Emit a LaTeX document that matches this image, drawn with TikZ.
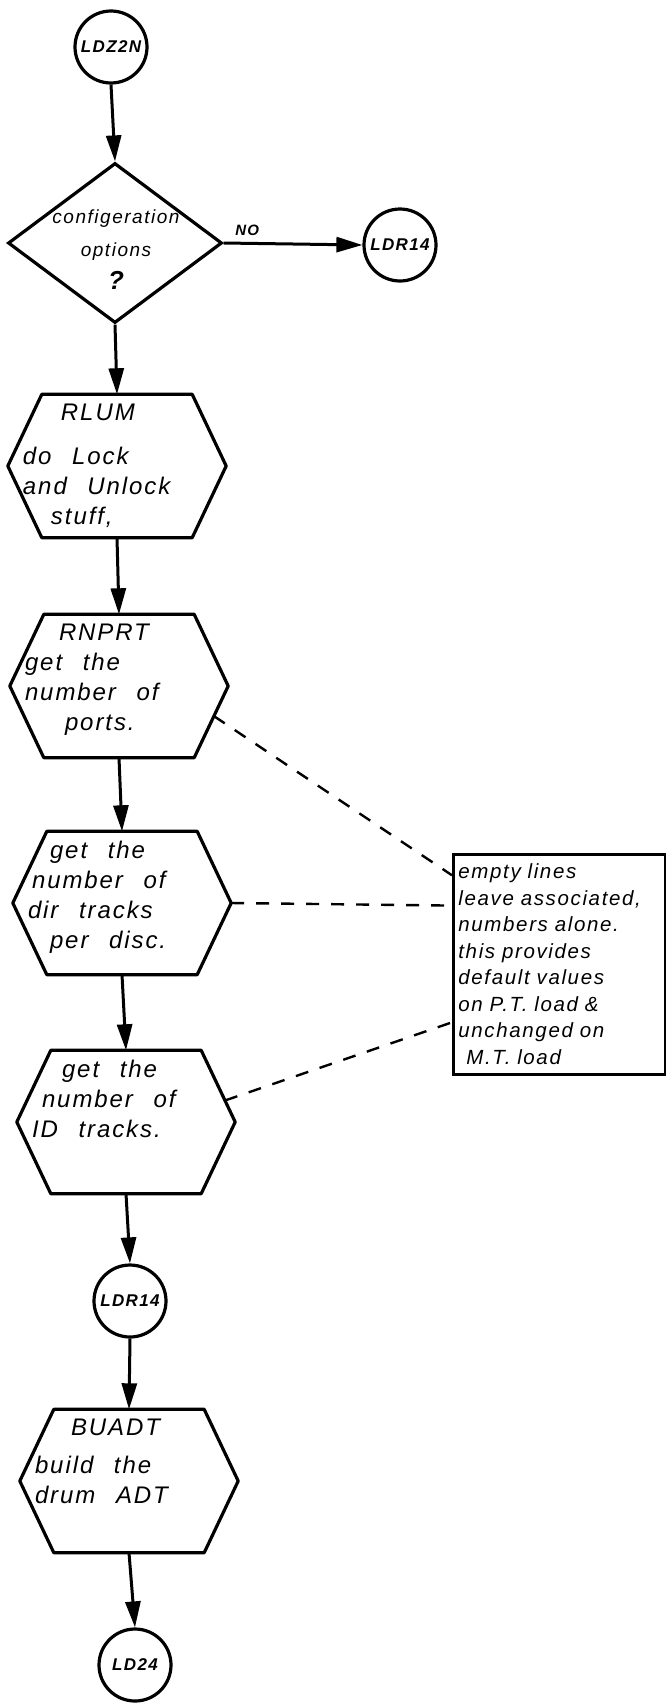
\documentclass[tikz,border=0pt]{standalone}
\usepackage{fontspec}
\newfontfamily\hand{Liberation Sans}[LetterSpace=8,WordSpace=2.4]
\usetikzlibrary{arrows.meta,shapes.geometric,calc}
\tikzset{
  flow/.style={line width=3pt, -{Triangle[length=26pt,width=15pt]}},
  term/.style={circle, draw, line width=3.2pt, minimum size=72pt, inner sep=0pt, font=\hand\itshape\bfseries\fontsize{17}{17}\selectfont},
  decide/.style={diamond, draw, line width=3.2pt, minimum width=214pt, minimum height=160pt, inner sep=0pt},
  dtext/.style={align=center, inner sep=0pt, font=\hand\itshape\fontsize{19}{33}\selectfont},
  proc/.style={minimum width=218pt, minimum height=143pt, inner sep=0pt, font=\hand\itshape\fontsize{24}{30}\selectfont},
  hexline/.style={line width=3.2pt, line join=round},
  note/.style={draw, line width=2.8pt, anchor=north west, text width=202pt, minimum height=220pt, inner sep=5pt, align=left, font=\hand\itshape\fontsize{20.5}{26.5}\selectfont},
  lead/.style={line width=2.4pt, dash pattern=on 13pt off 12pt}
}
\newcommand{\inhex}[1]{\parbox[c][124pt][t]{188pt}{\raggedright #1}}

\begin{document}
\begin{tikzpicture}[x=1pt,y=-1pt]
  \useasboundingbox (0,0) rectangle (666,1705);
  % main column
  \node[term] (ldz) at (111,47) {LDZ2N};
  \node[decide] (cfg) at (115,243) {};
  \node[dtext] (cfgtxt) at (116,250) {configeration\\options\\{\bfseries\fontsize{26}{26}\selectfont ?}};
  \node[term] (ldra) at (400,245) {LDR14};
  \node[proc] (rlum) at (117,466) {\inhex{\hspace*{38pt}RLUM\\[14pt] do Lock\\ and Unlock\\ \hspace*{28pt}stuff,}};
  \node[proc] (rnprt) at (119,686) {\inhex{\hspace*{34pt}RNPRT\\ get the\\ number of\\ \hspace*{40pt}ports.}};
  \node[proc] (dirtr) at (122,903) {\inhex{\hspace*{22pt}get the\\ \hspace*{4pt}number of\\ dir tracks\\ \hspace*{22pt}per disc.}};
  \node[proc] (idtr) at (126,1122) {\inhex{\hspace*{30pt}get the\\ \hspace*{10pt}number of\\ ID tracks.}};
  \node[term] (ldrb) at (130,1301) {LDR14};
  \node[proc] (buadt) at (129,1481) {\inhex{\hspace*{36pt}BUADT\\[8pt] build the\\ drum ADT}};
  \node[term] (ld24) at (135,1665) {LD24};
  \foreach \n in {rlum,rnprt,dirtr,idtr,buadt}{
    \draw[hexline] (\n.west) -- ([xshift=34pt]\n.north west) -- ([xshift=-34pt]\n.north east)
      -- (\n.east) -- ([xshift=-34pt]\n.south east) -- ([xshift=34pt]\n.south west) -- cycle;
    \coordinate (\n-ne) at ([xshift=-34pt]\n.north east);
    \coordinate (\n-se) at ([xshift=-34pt]\n.south east);
  }
  % note box
  \node[note] (remark) at (452,853) {empty lines\\ leave associated,\\ numbers alone.\\ this provides\\ default values\\ on P.T. load \&\\ unchanged on\\ \hspace*{8pt}M.T. load};
  % arrows
  \draw[flow] (ldz.south) -- (cfg.north);
  \draw[flow] (cfg.east) -- node[pos=0.17, above=3pt, font=\hand\itshape\bfseries\fontsize{15}{15}\selectfont] (nolbl) {NO} (ldra.west);
  \draw[flow] (cfg.south) -- (rlum.north);
  \draw[flow] (rlum.south) -- (rnprt.north);
  \draw[flow] (rnprt.south) -- (dirtr.north);
  \draw[flow] (dirtr.south) -- (idtr.north);
  \draw[flow] (idtr.south) -- (ldrb.north);
  \draw[flow] (ldrb.south) -- (buadt.north);
  \draw[flow] (buadt.south) -- (ld24.north);
  % dashed leads to the note
  \coordinate (q1) at ($(remark.north west)!0.1!(remark.south west)$);
  \coordinate (q2) at ($(remark.north west)!0.236!(remark.south west)$);
  \coordinate (q3) at ($(remark.north west)!0.76!(remark.south west)$);
  \draw[lead] ($(rnprt.east)!0.42!(rnprt-se)$) -- (q1);
  \draw[lead] (dirtr.east) -- (q2);
  \draw[lead] ($(idtr.east)!0.3!(idtr-ne)$) -- (q3);
\end{tikzpicture}
\end{document}
